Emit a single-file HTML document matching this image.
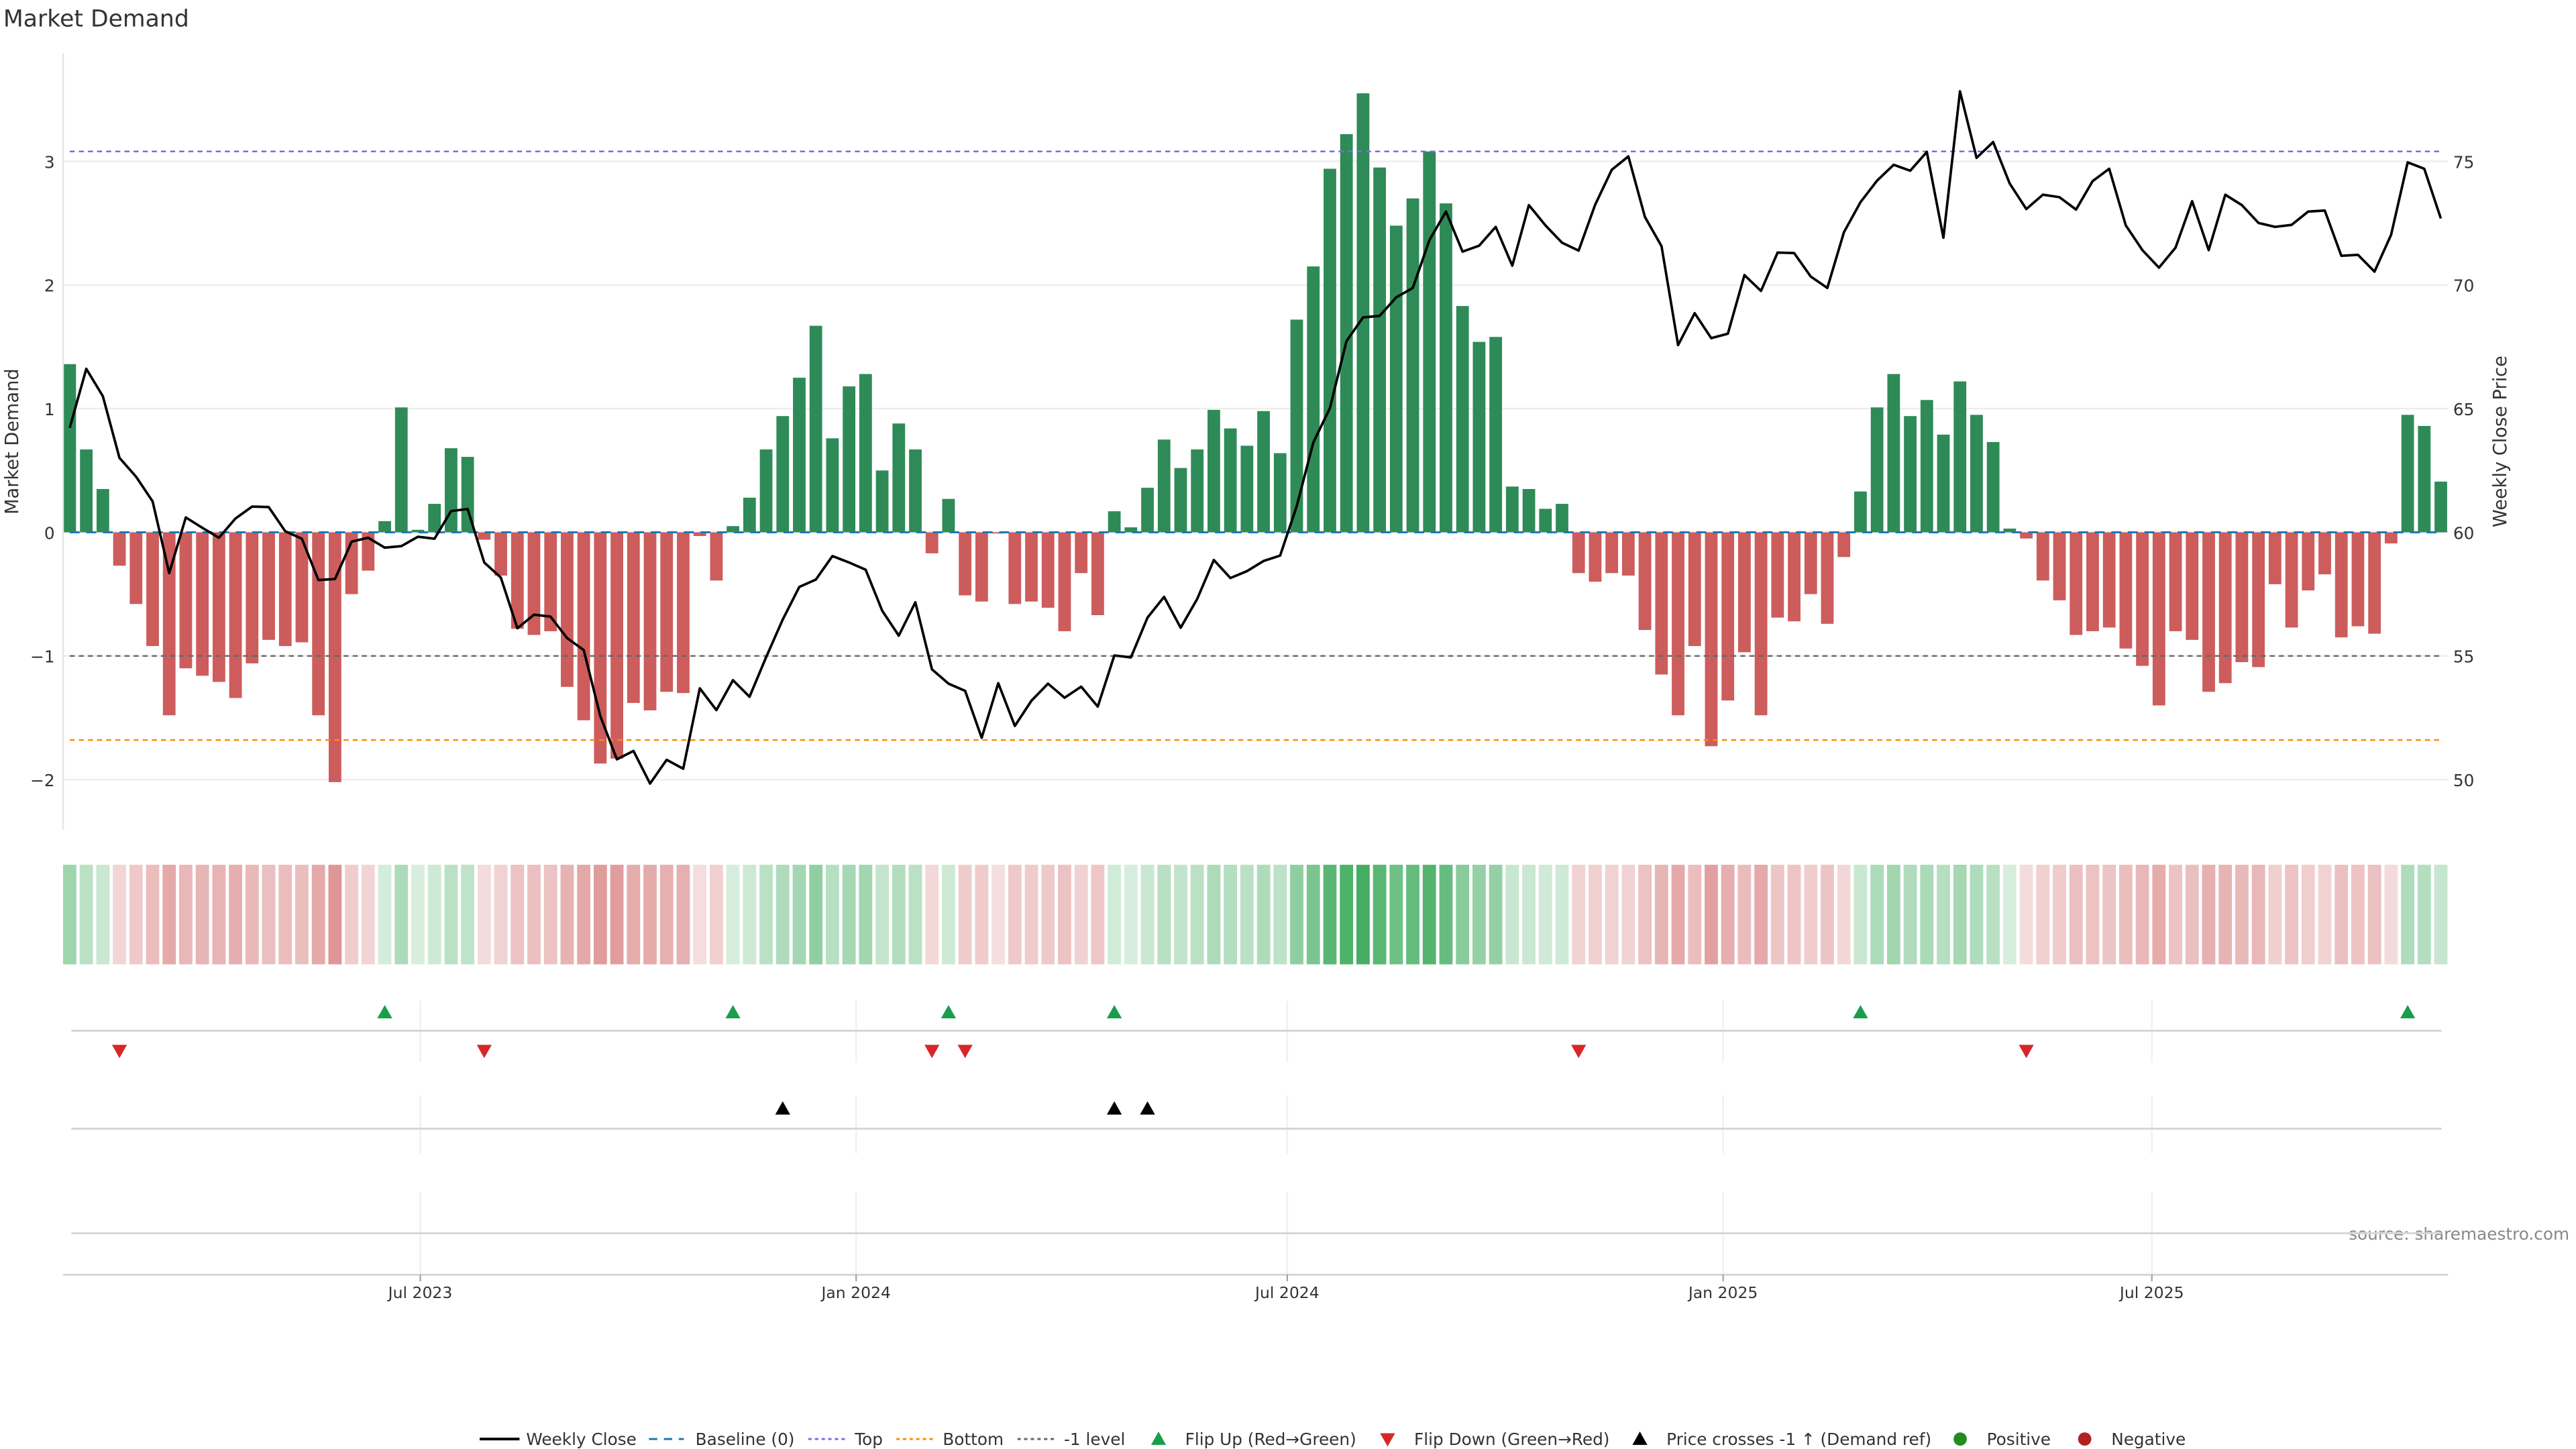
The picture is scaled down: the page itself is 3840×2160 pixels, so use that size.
<!DOCTYPE html>
<html><head><meta charset="utf-8"><title>Market Demand</title>
<style>
html,body{margin:0;padding:0;background:#fff;}
svg{display:block;font-family:"DejaVu Sans","Liberation Sans",sans-serif;}
</style></head>
<body>
<svg id="chart" width="3840" height="2160" viewBox="0 0 1552 873" xmlns="http://www.w3.org/2000/svg">
<text x="2" y="16" font-size="14" fill="#333">Market Demand</text>
<text transform="translate(11,266) rotate(-90)" text-anchor="middle" font-size="11" fill="#333">Market Demand</text>
<text transform="translate(1510,266) rotate(-90)" text-anchor="middle" font-size="11" fill="#333">Weekly Close Price</text>
<text x="1548" y="747" text-anchor="end" font-size="10" fill="#888">source: sharemaestro.com</text>
<g id="grid"></g><g id="heat"></g><g id="bars"></g><g id="lines"></g><g id="markers"></g><g id="axes"></g><g id="legend"></g>
</svg>
<script>
const demand = [1.36,0.67,0.35,-0.27,-0.58,-0.92,-1.48,-1.10,-1.16,-1.21,-1.34,-1.06,-0.87,-0.92,-0.89,-1.48,-2.02,-0.50,-0.31,0.09,
1.01,0.02,0.23,0.68,0.61,-0.06,-0.35,-0.78,-0.83,-0.80,-1.25,-1.52,-1.87,-1.83,-1.38,-1.44,-1.29,-1.30,-0.03,-0.39,
0.05,0.28,0.67,0.94,1.25,1.67,0.76,1.18,1.28,0.50,0.88,0.67,-0.17,0.27,-0.51,-0.56,-0.01,-0.58,-0.56,-0.61,
-0.80,-0.33,-0.67,0.17,0.04,0.36,0.75,0.52,0.67,0.99,0.84,0.70,0.98,0.64,1.72,2.15,2.94,3.22,3.55,2.95,
2.48,2.70,3.08,2.66,1.83,1.54,1.58,0.37,0.35,0.19,0.23,-0.33,-0.40,-0.33,-0.35,-0.79,-1.15,-1.48,-0.92,-1.73,
-1.36,-0.97,-1.48,-0.69,-0.72,-0.50,-0.74,-0.20,0.33,1.01,1.28,0.94,1.07,0.79,1.22,0.95,0.73,0.03,-0.05,-0.39,
-0.55,-0.83,-0.80,-0.77,-0.94,-1.08,-1.40,-0.80,-0.87,-1.29,-1.22,-1.05,-1.09,-0.42,-0.77,-0.47,-0.34,-0.85,-0.76,-0.82,
-0.09,0.95,0.86,0.41];
const price = [64.22,66.61,65.50,63.01,62.25,61.25,58.35,60.60,60.18,59.78,60.56,61.04,61.02,60.04,59.74,58.07,58.11,59.62,59.78,59.38,
59.44,59.82,59.74,60.86,60.94,58.78,58.17,56.12,56.67,56.59,55.72,55.24,52.57,50.82,51.16,49.84,50.80,50.44,53.69,52.81,
54.02,53.35,54.95,56.47,57.79,58.09,59.04,58.78,58.49,56.83,55.82,57.17,54.46,53.88,53.59,51.69,53.90,52.17,53.19,53.88,
53.31,53.76,52.95,55.02,54.94,56.55,57.39,56.14,57.31,58.88,58.15,58.43,58.84,59.06,61.06,63.63,65.02,67.73,68.69,68.75,
69.50,69.88,71.81,72.97,71.35,71.59,72.35,70.78,73.23,72.41,71.71,71.39,73.25,74.66,75.20,72.75,71.57,67.57,68.86,67.85,
68.03,70.40,69.76,71.31,71.29,70.34,69.88,72.13,73.35,74.22,74.86,74.62,75.38,71.91,77.83,75.14,75.78,74.10,73.07,73.65,
73.55,73.05,74.20,74.70,72.41,71.41,70.70,71.51,73.39,71.41,73.65,73.23,72.51,72.35,72.43,72.97,73.01,71.18,71.22,70.54,
72.03,74.96,74.70,72.69];
const leftTicks = [3,2,1,0,-1,-2];
const leftTickLabels = ["3","2","1","0","\u22121","\u22122"];
const rightTicks = [75,70,65,60,55,50];
const xTickDates = ["2023-07-01","2024-01-01","2024-07-01","2025-01-01","2025-07-01"];
const xTickLabels = ["Jul 2023","Jan 2024","Jul 2024","Jan 2025","Jul 2025"];
const refLevels = [3.08,-1.68,-1,0];
const startDate = "2023-02-03";

const NS="http://www.w3.org/2000/svg";
function mk(parent,tag,attrs){const e=document.createElementNS(NS,tag);for(const k in attrs)e.setAttribute(k,attrs[k]);document.getElementById(parent).appendChild(e);return e;}
const X0=42, STEP=9.99;
function xi(i){return X0+i*STEP;}
function xd(d){return X0+(new Date(d)-new Date(startDate))/(7*864e5)*STEP;}
function yL(v){return 320.7-v*74.5;}
function yR(p){return yL((p-60)/5);}
const XL=38, XR=1475;

leftTicks.forEach((t,k)=>{
  const g=mk('grid','line',{x1:XL,x2:XR,y1:yL(t),y2:yL(t),stroke:'#eeeeee','stroke-width':1});
  
  
  const tx=mk('axes','text',{x:33,y:yL(t)+4,'text-anchor':'end','font-size':10,fill:'#333'});
  tx.textContent=leftTickLabels[k];
  
  
});
rightTicks.forEach(t=>{
  const tx=mk('axes','text',{x:1478,y:yR(t)+4,'font-size':10,fill:'#333'});
  tx.textContent=String(t);
  
  
});
const sp=mk('axes','line',{x1:XL,x2:XL,y1:32,y2:500,stroke:'#e6e6e6','stroke-width':1});



demand.forEach((v,i)=>{
  const y=v>=0?yL(v):yL(0), h=Math.abs(yL(v)-yL(0));
  const b=mk('bars','rect',{x:xi(i)-3.8,y:y,width:7.6,height:Math.max(h,0.3),fill:v>=0?'#2e8b57':'#cd5c5c'});
  
  
});

const refStyles=[['#7b68ee','3,2.5'],['#ff8c00','3,2.5'],['#666666','3,2.5'],['#1f77b4','6,4']];
const refNames=['top-line','bottom-line','minus-one-level-line','baseline-zero'];
refLevels.forEach((lv,k)=>{
  const l=mk('lines','line',{x1:X0,x2:xi(demand.length-1),y1:yL(lv),y2:yL(lv),stroke:refStyles[k][0],'stroke-width':k==3?1.2:1,'stroke-dasharray':refStyles[k][1]});
  
  
});

const pl=mk('lines','polyline',{points:price.map((p,i)=>xi(i).toFixed(2)+','+yR(p).toFixed(2)).join(' '),fill:'none',stroke:'#000','stroke-width':1.5,'stroke-linejoin':'round'});



demand.forEach((v,i)=>{
  const a=Math.min(0.2+0.22*Math.abs(v),0.95);
  const c=v>=0?'rgba(60,170,90,'+a+')':'rgba(205,92,92,'+a+')';
  const r=mk('heat','rect',{x:xi(i)-4,y:521,width:8,height:60,fill:c});
  
  
});

[[603,640,621],[660,695,680],[718,768,743]].forEach((p,k)=>{
  xTickDates.forEach(d=>{
    const g=mk('grid','line',{x1:xd(d),x2:xd(d),y1:p[0],y2:p[1],stroke:'#eef0f2','stroke-width':1});
    
    
  });
  const l=mk('grid','line',{x1:43,x2:1471,y1:p[2],y2:p[2],stroke:'#d6d6d6','stroke-width':1.2});
  
  
});
function tri(x,y,up,color,name){
  const pts=up?[[x,y-4.5],[x-4.5,y+3.5],[x+4.5,y+3.5]]:[[x,y+4.5],[x-4.5,y-3.5],[x+4.5,y-3.5]];
  const t=mk('markers','polygon',{points:pts.map(p=>p.join(',')).join(' '),fill:color});
  
  
}
for(let i=1;i<demand.length;i++){
  if(demand[i-1]<0&&demand[i]>=0) tri(xi(i),610,true,'#1a9e4a','flip-up-marker');
  if(demand[i-1]>=0&&demand[i]<0) tri(xi(i),633,false,'#d62728','flip-down-marker');
  if(price[i-1]<55&&price[i]>=55) tri(xi(i),668,true,'#000','price-cross-marker');
}

const xa=mk('axes','line',{x1:XL,x2:XR,y1:768,y2:768,stroke:'#d6d6d6','stroke-width':1.2});


xTickDates.forEach((d,k)=>{
  const tk=mk('axes','line',{x1:xd(d),x2:xd(d),y1:768,y2:772,stroke:'#999','stroke-width':0.8});
  
  
  const t=mk('axes','text',{x:xd(d),y:782,'text-anchor':'middle','font-size':9.5,fill:'#333'});
  t.textContent=xTickLabels[k];
  
  
});

const LY=867;
function ltext(x,s,name){const t=mk('legend','text',{x:x,y:LY+3.5,'font-size':10,fill:'#333'});t.textContent=s;
  
  }
function lline(x1,x2,color,dash,w,name){const l=mk('legend','line',{x1:x1,x2:x2,y1:LY,y2:LY,stroke:color,'stroke-width':w,'stroke-dasharray':dash});
  
  }
lline(289,313,'#000','',1.6,'legend-swatch-weekly-close'); ltext(317,'Weekly Close','legend-weekly-close');
lline(391,412,'#1f77b4','5,4',1.2,'legend-swatch-baseline'); ltext(419,'Baseline (0)','legend-baseline');
lline(487,509,'#7b68ee','2,2',1.2,'legend-swatch-top'); ltext(515,'Top','legend-top');
lline(540,562,'#ff8c00','2,2',1.2,'legend-swatch-bottom'); ltext(568,'Bottom','legend-bottom');
lline(613,635,'#666','2,2',1.2,'legend-swatch-minus-one'); ltext(641,'-1 level','legend-minus-one');
tri(698,LY,true,'#1a9e4a','legend-swatch-flip-up'); ltext(714,'Flip Up (Red\u2192Green)','legend-flip-up');
tri(836,LY,false,'#d62728','legend-swatch-flip-down'); ltext(852,'Flip Down (Green\u2192Red)','legend-flip-down');
tri(988,LY,true,'#000','legend-swatch-price-cross'); ltext(1004,'Price crosses -1 \u2191 (Demand ref)','legend-price-cross');
const c1=mk('legend','circle',{cx:1181,cy:LY,r:4,fill:'#228b22'});


ltext(1197,'Positive','legend-positive');
const c2=mk('legend','circle',{cx:1256,cy:LY,r:4,fill:'#b22222'});


ltext(1272,'Negative','legend-negative');
</script>
</body></html>
